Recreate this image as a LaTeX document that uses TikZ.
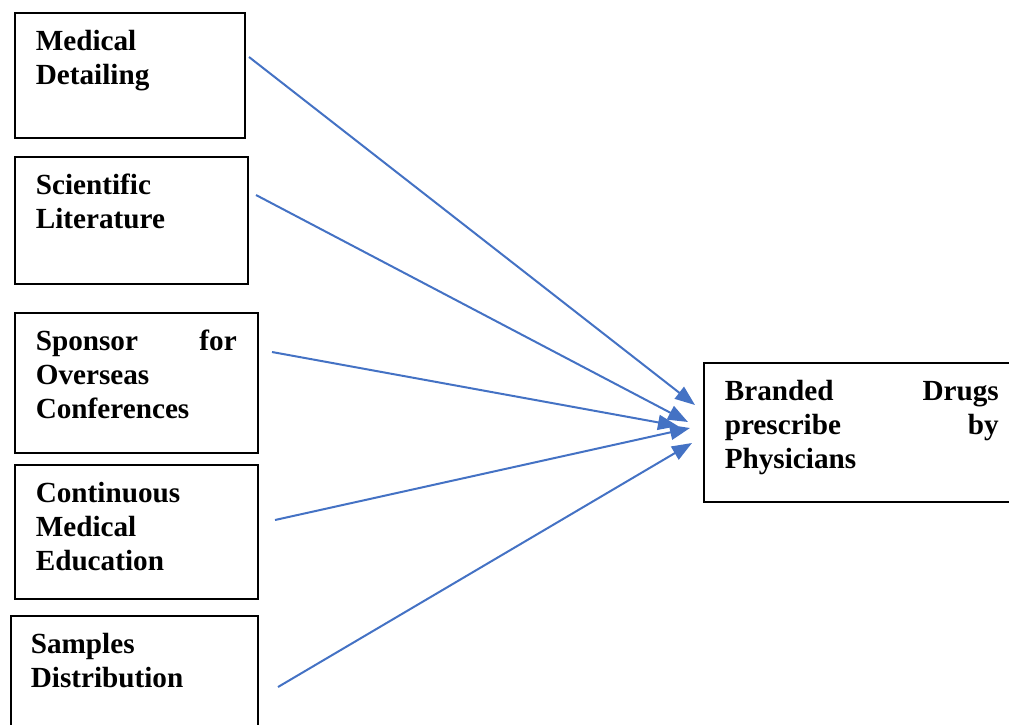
\documentclass[tikz,border=0pt]{standalone}
\usepackage{fontspec}
\setmainfont{Liberation Serif}
\usetikzlibrary{arrows.meta}
\definecolor{linkblue}{HTML}{4472C4}

\begin{document}
\begin{tikzpicture}[
	x=1pt, y=-1pt,
	factor/.style = {draw, line width=1.6pt, anchor=north west, inner xsep=21pt, inner ysep=0pt,
		align=left, text height=38pt, font=\fontsize{29.2}{34}\selectfont\bfseries},
	link/.style = {draw=linkblue, line width=2pt, -{Triangle[length=20pt,width=15pt]}}
]
\useasboundingbox (0,0) rectangle (1009,724);

% factors
\node[factor, text width=188pt, text depth=87pt] (detailing) at (14,12) {Medical\\Detailing};
\node[factor, text width=191pt, text depth=89pt] (literature) at (14,156) {Scientific\\Literature};
\node[factor, text width=201pt, text depth=102pt] (sponsor) at (14,312) {Sponsor\hfill for\\Overseas\\Conferences};
\node[factor, text width=201pt, text depth=96pt] (education) at (14,464) {Continuous\\Medical\\Education};
\node[factor, text width=207pt, text depth=77pt, inner xsep=20pt] (samples) at (10,615) {Samples\\Distribution};

% outcome
\node[factor, text width=274pt, text depth=101pt] (branded) at (703,362) {Branded\hfill Drugs\\prescribe\hfill by\\Physicians};

% arrow ends
\coordinate (detailing-out) at (249,57);
\coordinate (literature-out) at (256,195);
\coordinate (sponsor-out) at (272,352);
\coordinate (education-out) at (275,520);
\coordinate (samples-out) at (278,687);
\coordinate (branded-in1) at (695,405);
\coordinate (branded-in2) at (688,422);
\coordinate (branded-in3) at (678,426);
\coordinate (branded-in4) at (690,428);
\coordinate (branded-in5) at (692,443);

\draw[link] (detailing-out) -- (branded-in1);
\draw[link] (literature-out) -- (branded-in2);
\draw[link] (sponsor-out) -- (branded-in3);
\draw[link] (education-out) -- (branded-in4);
\draw[link] (samples-out) -- (branded-in5);

\end{tikzpicture}
\end{document}
